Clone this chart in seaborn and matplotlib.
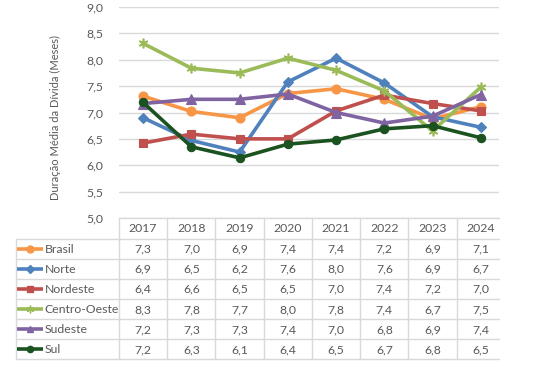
import numpy as np
import pandas as pd
import matplotlib
matplotlib.use("Agg")
import matplotlib.pyplot as plt
import seaborn as sns

# ---------------- data ----------------
anos = [2017, 2018, 2019, 2020, 2021, 2022, 2023, 2024]
series = ["Brasil", "Norte", "Nordeste", "Centro-Oeste", "Sudeste", "Sul"]
brasil = [7.31, 7.02, 6.90, 7.36, 7.45, 7.25, 6.88, 7.11]
norte = [6.90, 6.47, 6.25, 7.58, 8.03, 7.56, 6.92, 6.72]
nordeste = [6.42, 6.59, 6.50, 6.50, 7.03, 7.33, 7.17, 7.03]
centro_oeste = [8.31, 7.84, 7.75, 8.03, 7.80, 7.41, 6.65, 7.48]
sudeste = [7.17, 7.25, 7.25, 7.35, 7.00, 6.80, 6.93, 7.34]
sul = [7.19, 6.35, 6.14, 6.40, 6.48, 6.69, 6.75, 6.52]
valores = [brasil, norte, nordeste, centro_oeste, sudeste, sul]

# values printed in the data table
tab_brasil = ["7,3", "7,0", "6,9", "7,4", "7,4", "7,2", "6,9", "7,1"]
tab_norte = ["6,9", "6,5", "6,2", "7,6", "8,0", "7,6", "6,9", "6,7"]
tab_nordeste = ["6,4", "6,6", "6,5", "6,5", "7,0", "7,4", "7,2", "7,0"]
tab_centro_oeste = ["8,3", "7,8", "7,7", "8,0", "7,8", "7,4", "6,7", "7,5"]
tab_sudeste = ["7,2", "7,3", "7,3", "7,4", "7,0", "6,8", "6,9", "7,4"]
tab_sul = ["7,2", "6,3", "6,1", "6,4", "6,5", "6,7", "6,8", "6,5"]
tabela = [tab_brasil, tab_norte, tab_nordeste, tab_centro_oeste, tab_sudeste, tab_sul]

y_ticks = [5.0, 5.5, 6.0, 6.5, 7.0, 7.5, 8.0, 8.5, 9.0]
y_label = "Duração Média da Dívida (Meses)"

cores = {"Brasil": "#F79646", "Norte": "#4F81BD", "Nordeste": "#C0504D",
         "Centro-Oeste": "#9BBB59", "Sudeste": "#8064A2", "Sul": "#1A5220"}
marcadores = {"Brasil": "o", "Norte": "D", "Nordeste": "s",
              "Centro-Oeste": (6, 2, 0), "Sudeste": "^", "Sul": "o"}
tamanhos = {"Brasil": 6.5, "Norte": 5.5, "Nordeste": 6, "Centro-Oeste": 7,
            "Sudeste": 6.5, "Sul": 6}
# seaborn cannot mix filled and line-art markers: use a placeholder, fix after
marcadores_sns = {s: ("X" if isinstance(m, tuple) else m) for s, m in marcadores.items()}

df = pd.DataFrame([
    {"ano": a, "valor": v, "serie": s}
    for s, vals in zip(series, valores) for a, v in zip(anos, vals)
])

# ---------------- figure ----------------
sns.set_theme(style="white")
plt.rcParams["font.family"] = ["Lato", "DejaVu Sans"]
W, H = 544, 380
fig = plt.figure(figsize=(W / 100, H / 100), dpi=100)

px_left, px_right, px_top, px_bottom = 119, 499, 7, 218
step = 48.24  # pixel width of one category
ax = fig.add_axes([px_left / W, 1 - px_bottom / H,
                   (px_right - px_left) / W, (px_bottom - px_top) / H])

sns.lineplot(data=df, x="ano", y="valor", hue="serie", style="serie",
             hue_order=series, style_order=series, palette=cores,
             markers=marcadores_sns, dashes=False, linewidth=2.6,
             markersize=6, sort=False, legend=False, ax=ax)

for line, s in zip(ax.lines, series):
    c = cores[s]
    line.set_marker(marcadores[s])
    line.set_markeredgecolor(c)
    line.set_markerfacecolor(c)
    line.set_markersize(tamanhos[s])
    line.set_markeredgewidth(1.2 if s == "Centro-Oeste" else 0.8)
    line.set_solid_joinstyle("round")

fs = 8.8
txt_c = "#595959"
ax.set_xlim(anos[0] - 0.5, anos[0] - 0.5 + (px_right - px_left) / step)
ax.set_ylim(5.0, 9.0)
ax.set_yticks(y_ticks)
ax.set_yticklabels([f"{t:.1f}".replace(".", ",") for t in y_ticks],
                   fontsize=fs, color=txt_c)
ax.tick_params(axis="y", length=0, pad=11)
ax.set_xticks([])
ax.set_xlabel("")
ax.set_ylabel(y_label, fontsize=8.0, color=txt_c, va="center")
ax.yaxis.set_label_coords((55.5 - px_left) / (px_right - px_left),
                          1 - (118 - px_top) / (px_bottom - px_top))
ax.grid(axis="y", color="#D9D9D9", linewidth=1.0)
ax.grid(axis="x", visible=False)
for sp in ax.spines.values():
    sp.set_visible(False)
ax.set_axisbelow(True)

# ---------------- data table ----------------
tab = fig.add_axes([0, 0, 1, 1])
tab.set_xlim(0, W)
tab.set_ylim(H, 0)
tab.axis("off")
tab.patch.set_alpha(0)

grid_c = "#D9D9D9"
row_edges = [218, 238.5, 258.7, 278.8, 298.9, 319.0, 339.1, 359.3]
col_edges = [px_left + i * step for i in range(len(anos) + 1)]
left_edge = 15.5

# horizontal lines
tab.plot([px_left, px_right], [row_edges[0]] * 2, color=grid_c, lw=1.0)
for yv in row_edges[1:]:
    tab.plot([left_edge, px_right], [yv, yv], color=grid_c, lw=1.0)
# vertical lines
tab.plot([left_edge, left_edge], [row_edges[1], row_edges[-1]], color=grid_c, lw=1.0)
for xv in col_edges[:-1]:
    tab.plot([xv, xv], [row_edges[0], row_edges[-1]], color=grid_c, lw=1.0)

for i, a in enumerate(anos):
    xc = (col_edges[i] + col_edges[i + 1]) / 2
    tab.text(xc, (row_edges[0] + row_edges[1]) / 2 + 0.5, str(a), ha="center",
             va="center", fontsize=fs, color=txt_c)
for r, (s, vals) in enumerate(zip(series, tabela)):
    yc = (row_edges[r + 1] + row_edges[r + 2]) / 2
    c = cores[s]
    tab.plot([17, 43], [yc, yc], color=c, lw=2.6, solid_capstyle="butt")
    tab.plot([30], [yc], marker=marcadores[s], color=c, mec=c,
             markersize=tamanhos[s] - 1.5, mew=1.0)
    tab.text(44.5, yc + 0.5, s, ha="left", va="center", fontsize=fs, color=txt_c)
    for i, v in enumerate(vals):
        xc = (col_edges[i] + col_edges[i + 1]) / 2
        tab.text(xc, yc + 0.5, v, ha="center", va="center", fontsize=fs, color=txt_c)

fig.savefig("out.png", dpi=100, facecolor="white")
